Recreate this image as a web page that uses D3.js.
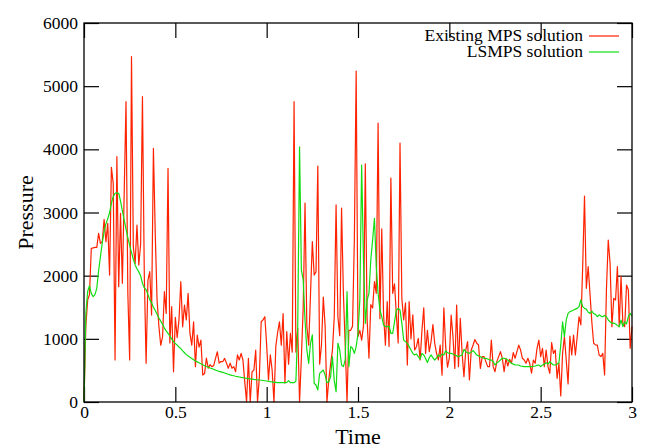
<!DOCTYPE html>
<html>
<head>
<meta charset="utf-8">
<title>Pressure</title>
<script src="https://cdn.jsdelivr.net/npm/d3@7"></script>
<style type="text/css">
	body { margin: 0; background: #fff; }
	.axis line { stroke: #000; stroke-width: 1.2; }
	.line { fill: none; stroke-width: 1.2; stroke-linejoin: round; }
</style>
</head>
<body>

<script type="text/javascript">

// sampling of both series (s)
var dt = 0.01;

// Existing MPS solution, 0 .. 3 s
var mpsPressure = [
	0, 1200, 1615, 1700, 2433, 2440, 2449, 2449, 2670, 2512,
	2540, 2890, 2538, 2828, 2010, 3715, 3461, 665, 3884, 1826,
	2987, 1879, 3300, 4754, 1720, 665, 5470, 2459, 2195, 2802,
	2168, 2500, 4833, 2036, 612, 1931, 2063, 1376, 4016, 2670,
	1615, 1200, 898, 1030, 1746, 1403, 3699, 935, 1509, 478,
	1340, 1020, 1300, 1905, 1190, 1535, 1300, 1720, 1085, 900,
	1270, 560, 1060, 870, 980, 427, 450, 694, 535, 590,
	560, 575, 690, 795, 615, 640, 640, 690, 615, 535,
	615, 535, 560, 480, 745, 665, 770, 665, 322, 0,
	690, 0, 480, 505, 820, 0, 400, 1270, 1300, 1350,
	900, 350, 745, 500, 0, 880, 1100, 1270, 900, 1400,
	300, 1115, 600, 1085, 790, 4755, 790, 1165, 0, 700,
	1500, 3150, 1200, 900, 1700, 2540, 2010, 2060, 3735, 600,
	900, 1660, 1200, 0, 350, 600, 820, 1345, 3120, 1345,
	1050, 3070, 1720, 900, 0, 1135, 1135, 1200, 2565, 5240,
	1035, 1135, 980, 1200, 3770, 1300, 695, 1540, 1490, 1905,
	1720, 4415, 1320, 2740, 1380, 900, 1590, 880, 3545, 1720,
	1870, 1380, 935, 4100, 1640, 1300, 1570, 585, 1590, 1000,
	1380, 823, 876, 1006, 665, 1130, 1490, 770, 1135, 797,
	955, 1225, 928, 770, 665, 900, 425, 1490, 880, 550,
	700, 1375, 1033, 530, 1535, 560, 1325, 770, 400, 823,
	955, 350, 823, 902, 990, 930, 902, 530, 718, 718,
	639, 560, 560, 980, 560, 480, 639, 718, 797, 692,
	480, 692, 570, 676, 613, 781, 692, 797, 900, 823,
	692, 665, 613, 692, 613, 455, 665, 613, 850, 980,
	718, 850, 560, 823, 560, 454, 940, 770, 823, 375,
	612, 95, 770, 1035, 665, 285, 1045, 744, 1060, 744,
	1035, 1350, 1220, 2142, 3260, 1800, 2142, 1720, 1270, 930,
	905, 900, 744, 718, 770, 428, 1773, 2565, 2195, 1193,
	1640, 1616, 2142, 1193, 1985, 1245, 1193, 1852, 1773, 850,
	1193
];

// LSMPS solution, 0 .. 3 s
var lsmpsPressure = [
	0, 1400, 1750, 1840, 1720, 1667, 1700, 1800, 2080, 2300,
	2520, 2700, 2820, 2900, 3000, 3150, 3250, 3305, 3310, 3305,
	3180, 3030, 2880, 2740, 2600, 2480, 2370, 2260, 2170, 2110,
	2060, 2000, 1880, 1810, 1780, 1700, 1620, 1570, 1500, 1450,
	1390, 1330, 1280, 1230, 1170, 1125, 1085, 1045, 1000, 955,
	925, 900, 870, 845, 810, 780, 750, 730, 710, 690,
	670, 650, 635, 620, 605, 590, 575, 562, 550, 538,
	528, 518, 505, 495, 485, 478, 470, 460, 450, 440,
	430, 422, 415, 408, 402, 396, 390, 385, 380, 375,
	370, 366, 362, 358, 355, 352, 348, 344, 340, 336,
	332, 328, 322, 318, 312, 310, 306, 306, 306, 306,
	306, 310, 338, 306, 306, 306, 330, 1193, 4040, 2090,
	1931, 1297, 824, 612, 930, 1062, 296, 270, 190, 454,
	480, 506, 427, 306, 320, 400, 718, 338, 163, 930,
	824, 586, 560, 665, 1746, 560, 877, 850, 770, 877,
	1088, 1615, 3752, 2248, 1245, 1615, 1720, 2248, 2565, 2907,
	2143, 1720, 1456, 1350, 1218, 1193, 1193, 1200, 1088, 1088,
	1270, 1456, 1480, 1456, 1245, 980, 955, 928, 877, 824,
	770, 745, 760, 718, 680, 770, 745, 690, 625, 700,
	745, 700, 665, 700, 745, 720, 760, 745, 810, 780,
	770, 770, 760, 744, 730, 718, 735, 744, 833, 797,
	780, 770, 790, 815, 780, 744, 730, 718, 700, 692,
	692, 680, 665, 665, 640, 586, 620, 639, 665, 692,
	692, 680, 665, 640, 613, 600, 586, 586, 586, 570,
	565, 560, 560, 560, 560, 560, 565, 570, 580, 586,
	560, 586, 600, 622, 600, 640, 610, 586, 586, 600,
	622, 900, 1270, 1035, 1300, 1403, 1430, 1440, 1456, 1470,
	1482, 1510, 1616, 1510, 1482, 1470, 1420, 1403, 1440, 1400,
	1387, 1350, 1380, 1360, 1350, 1370, 1350, 1298, 1270, 1245,
	1250, 1235, 1213, 1193, 1298, 1193, 1270, 1235, 1350, 1403,
	1360
];

var timeTicks = [0, 0.5, 1, 1.5, 2, 2.5, 3];
var pressureTicks = [0, 1000, 2000, 3000, 4000, 5000, 6000];

var seriesNames = ["Existing MPS solution", "LSMPS solution"];
var seriesColors = ["#ff2200", "#11dd11"];

var serif = '"Liberation Serif", "Times New Roman", serif';

var width = 646,
	height = 448,
	margin = {top: 23, right: 14, bottom: 46, left: 84};

var svg = d3.select('body').append('svg')
	.attr('width', width)
	.attr('height', height);

var x = d3.scaleLinear()
	.domain([0, 3])
	.range([margin.left, width - margin.right]);

var y = d3.scaleLinear()
	.domain([0, 6000])
	.range([height - margin.bottom, margin.top]);

var fmtX = d3.format("~g");

// gnuplot style: ticks pointing inwards on all four sides
svg.append("g").attr("class", "axis")
	.attr("transform", `translate(0,${y(0)})`)
	.call(d3.axisBottom(x).tickValues(timeTicks).tickFormat(fmtX)
		.tickSizeInner(-15).tickSizeOuter(0).tickPadding(4));

svg.append("g").attr("class", "axis")
	.attr("transform", `translate(0,${y(6000)})`)
	.call(d3.axisTop(x).tickValues(timeTicks).tickFormat("")
		.tickSizeInner(-15).tickSizeOuter(0));

svg.append("g").attr("class", "axis")
	.attr("transform", `translate(${x(0)},0)`)
	.call(d3.axisLeft(y).tickValues(pressureTicks).tickFormat(d3.format("d"))
		.tickSizeInner(-15).tickSizeOuter(0).tickPadding(6));

svg.append("g").attr("class", "axis")
	.attr("transform", `translate(${x(3)},0)`)
	.call(d3.axisRight(y).tickValues(pressureTicks).tickFormat("")
		.tickSizeInner(-15).tickSizeOuter(0));

svg.selectAll(".axis .domain").remove();
svg.selectAll(".axis text")
	.style("font-family", serif)
	.style("font-size", "17.5px")
	.style("fill", "#000");

var line = d3.line()
	.x(function(d, i) { return x(i * dt); })
	.y(function(d) { return y(d); });

[mpsPressure, lsmpsPressure].forEach(function(values, k) {
	svg.append("path")
		.datum(values)
		.attr("class", "line")
		.attr("stroke", seriesColors[k])
		.attr("d", line);
});

// frame
svg.append("rect")
	.attr("x", x(0))
	.attr("y", y(6000))
	.attr("width", x(3) - x(0))
	.attr("height", y(0) - y(6000))
	.attr("fill", "none")
	.attr("stroke", "#000")
	.attr("stroke-width", 1.3);

// legend, top right
var legend = svg.append("g");
seriesNames.forEach(function(name, k) {
	var ly = 36 + k * 16;
	legend.append("text")
		.attr("x", 583)
		.attr("y", ly + 5)
		.attr("text-anchor", "end")
		.style("font-family", serif)
		.style("font-size", "17.5px")
		.text(name);
	legend.append("line")
		.attr("x1", 589).attr("x2", 619)
		.attr("y1", ly).attr("y2", ly)
		.attr("stroke", seriesColors[k])
		.attr("stroke-width", 1.2);
});

svg.append("text")
	.attr("x", (x(0) + x(3)) / 2)
	.attr("y", 444)
	.attr("text-anchor", "middle")
	.style("font-family", serif)
	.style("font-size", "22px")
	.text("Time");

svg.append("text")
	.attr("transform", `translate(33,${(y(0) + y(6000)) / 2}) rotate(-90)`)
	.attr("text-anchor", "middle")
	.style("font-family", serif)
	.style("font-size", "22px")
	.text("Pressure");

</script>

</body>
</html>
